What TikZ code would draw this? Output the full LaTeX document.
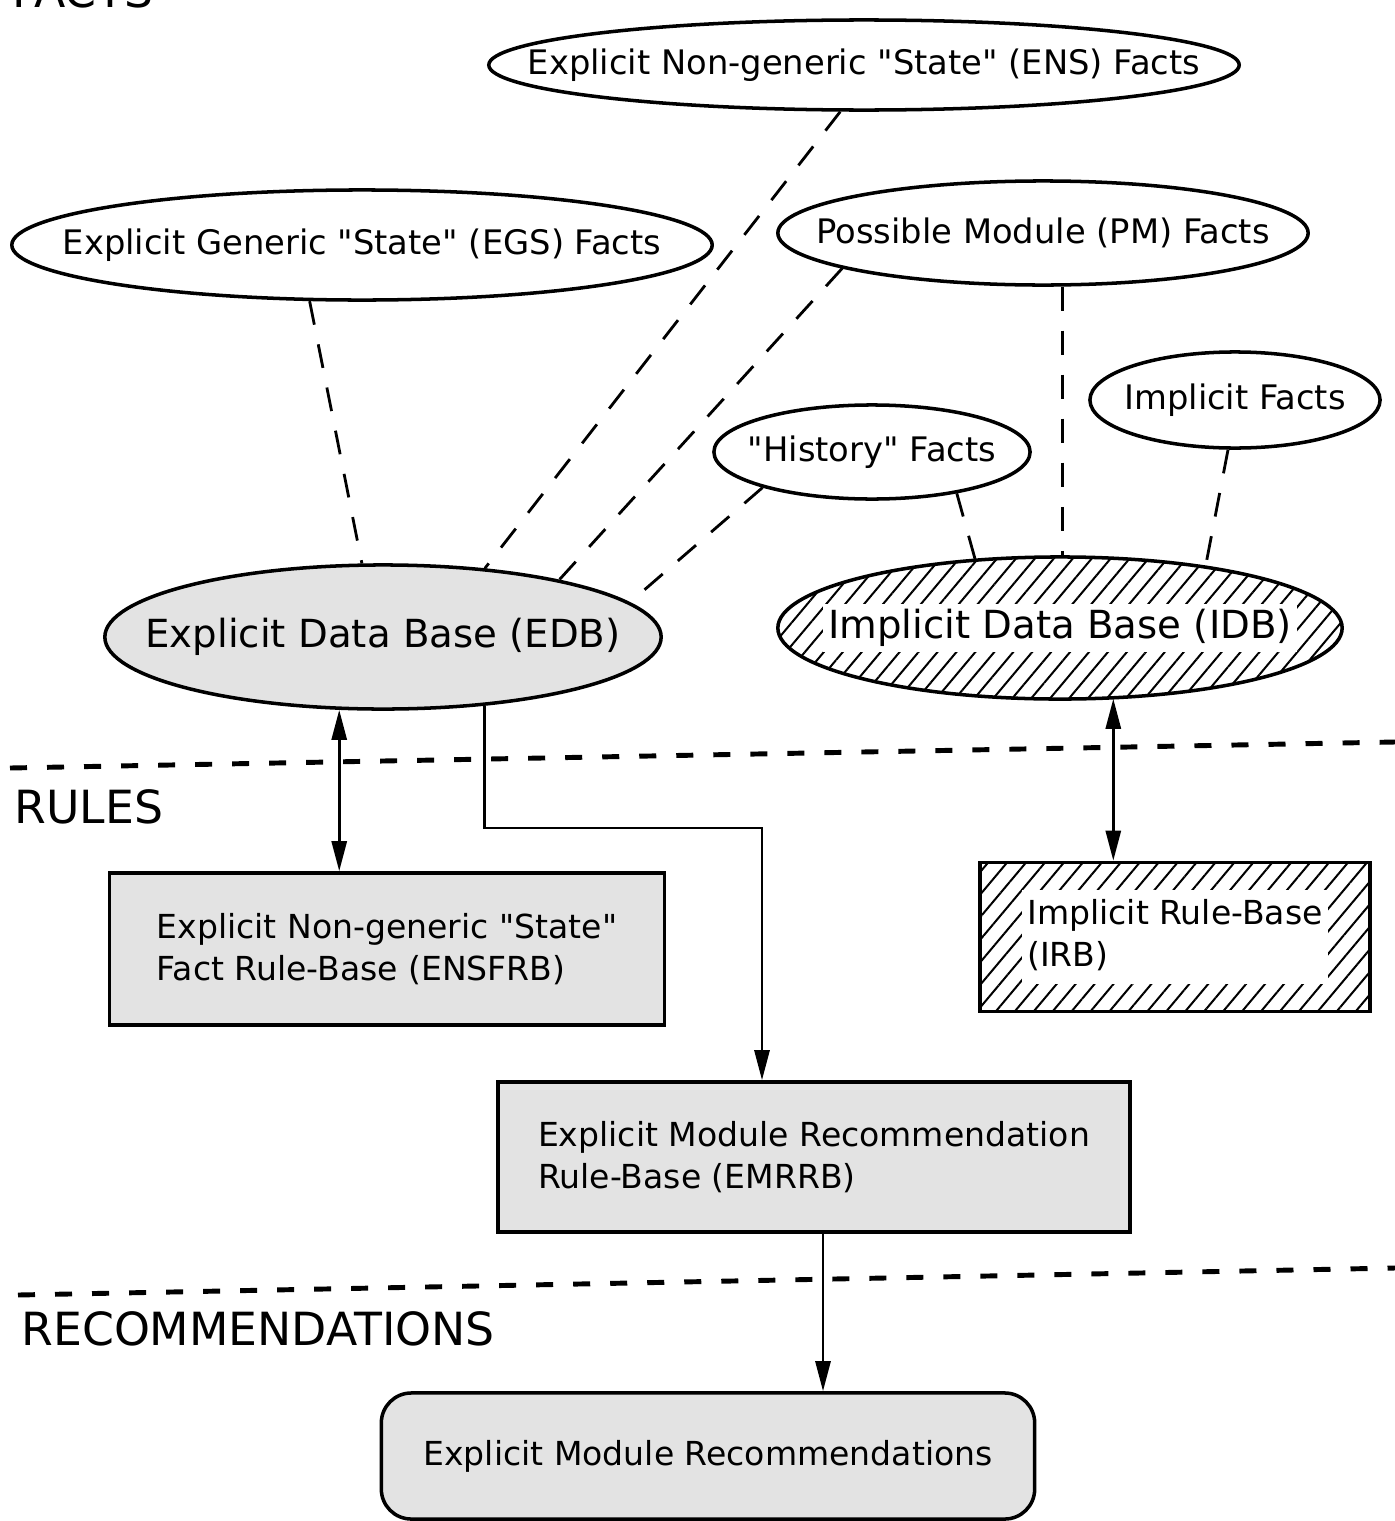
\documentclass[tikz,border=0pt]{standalone}
\usepackage{fontspec}
\setmainfont{DejaVu Sans}[Ligatures=TeXOff]
\usetikzlibrary{shapes.geometric,arrows.meta,patterns.meta}
\newcommand{\Layer}[1]{{\fontsize{13}{15}\selectfont #1}}
\newcommand{\Clear}[1]{{\setlength{\fboxsep}{1.5pt}\colorbox{white}{#1}}}
\newcommand{\Tight}[1]{\makebox[0pt]{#1}}

\begin{document}
\begin{tikzpicture}[x=0.01cm, y=-0.01cm,
    fact/.style={ellipse, draw, line width=1pt, inner sep=0pt, font=\fontsize{9.6}{12}\selectfont},
    base/.style={ellipse, draw, line width=1pt, inner sep=0pt, font=\fontsize{11}{13}\selectfont},
    rulebox/.style={rectangle, draw, line width=1pt, inner sep=0pt, align=left, font=\fontsize{9.4}{12}\selectfont},
    grayfill/.style={fill=gray!22},
    hatch/.style={pattern={Lines[angle=50, distance=0.145cm, line width=0.02cm]}},
    link/.style={dash pattern=on 0.24cm off 0.2cm, line width=0.8pt},
    layerline/.style={dash pattern=on 0.17cm off 0.2cm, line width=1.4pt},
    flow/.style={line width=0.8pt},
    >={Triangle[length=0.3cm, width=0.15cm]}]

    \useasboundingbox (0,0) rectangle (1395,1521);

    % layer titles and separators
    \draw (0,8) node[anchor=base west] (factsLbl) {\Layer{FACTS}};
    \draw (2,823) node[anchor=base west] (rulesLbl) {\Layer{RULES}};
    \draw (9,1345) node[anchor=base west] (recsLbl) {\Layer{RECOMMENDATIONS}};
    \draw[layerline] (10,768) -- (1395,742);
    \draw[layerline] (18,1295) -- (1395,1268);

    % facts
    \draw (864,65) node[fact, minimum width=7.5cm, minimum height=0.9cm] (ENS) {\Tight{Explicit Non-generic "State" (ENS) Facts}};
    \draw (362,245) node[fact, minimum width=7cm, minimum height=1.1cm] (EGS) {\Tight{Explicit Generic "State" (EGS) Facts}};
    \draw (1043,233) node[fact, minimum width=5.3cm, minimum height=1.04cm] (PM) {\Tight{Possible Module (PM) Facts}};
    \draw (1235,400) node[fact, minimum width=2.9cm, minimum height=0.96cm] (IF) {\Tight{Implicit Facts}};
    \draw (872,452) node[fact, minimum width=3.16cm, minimum height=0.94cm] (Hist) {\Tight{"History" Facts}};
    \draw (383,637) node[base, grayfill, minimum width=5.56cm, minimum height=1.44cm] (EDB) {\Tight{Explicit Data Base (EDB)}};
    \draw (1060,628) node[base, hatch, minimum width=5.64cm, minimum height=1.42cm] (IDB) {\Tight{\Clear{Implicit Data Base (IDB)}}};

    % rules
    \draw (387,949) node[rulebox, grayfill, minimum width=5.55cm, minimum height=1.52cm] (ENSFRB) {Explicit Non-generic "State"\\Fact Rule-Base (ENSFRB)};
    \draw (1175,937) node[rulebox, hatch, minimum width=3.9cm, minimum height=1.49cm] (IRB) {\Clear{\begin{tabular}{@{}l@{}}Implicit Rule-Base\\(IRB)\end{tabular}}};
    \draw (814,1157) node[rulebox, grayfill, minimum width=6.32cm, minimum height=1.5cm] (EMRRB) {Explicit Module Recommendation\\Rule-Base (EMRRB)};

    % recommendations
    \draw (708,1456) node[rulebox, grayfill, rounded corners=0.3cm, minimum width=6.53cm, minimum height=1.26cm] (Recs) {Explicit Module Recommendations};

    % fact links
    \draw[link] (EGS.227) -- (EDB.106);
    \draw[link] (ENS.243) -- (EDB.34);
    \draw[link] (PM.190) -- (EDB.18);
    \draw[link] (Hist.198) -- (EDB.8.5);
    \draw[link] (Hist.334) -- (IDB.141);
    \draw[link] (PM.290) -- (PM.290 |- IDB.north);
    \draw[link] (IF.262) -- (IDB.23);

    % flows
    \draw[flow, <->] (EDB.239) -- (EDB.239 |- ENSFRB.north);
    \coordinate (turn) at (762,828);
    \draw[flow, ->] (EDB.326) |- (turn) -- (turn |- EMRRB.north);
    \draw[flow, <->] (IDB.307) -- (IDB.307 |- IRB.north);
    \draw[flow, ->] ([xshift=0.09cm]EMRRB.south) -- ([xshift=0.09cm]EMRRB.south |- Recs.north);

\end{tikzpicture}
\end{document}
